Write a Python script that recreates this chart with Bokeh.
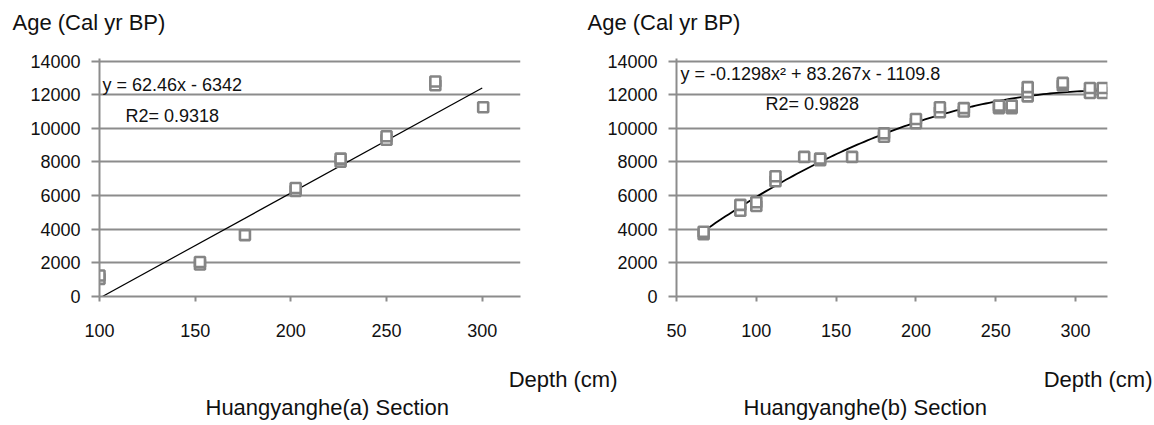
import numpy as np
from bokeh.plotting import figure
from bokeh.models import Range1d, FixedTicker, Label, Title
from bokeh.layouts import row
from bokeh.embed import file_html
from bokeh.resources import INLINE

# ---------------- data ----------------
y_ticks = [0, 2000, 4000, 6000, 8000, 10000, 12000, 14000]
a_x_ticks = [100, 150, 200, 250, 300]
b_x_ticks = [50, 100, 150, 200, 250, 300]

# Huangyanghe(a) section
a_depth = [100, 100, 152.5, 152.5, 176, 202.5, 202.5, 226, 226, 250, 250, 275.5, 275.5, 300.5]
a_age = [1050, 1250, 1900, 2050, 3650, 6280, 6450, 8020, 8200, 9320, 9530, 12560, 12780, 11250]
a_fit = [62.46, -6342]          # slope, intercept (from chart equation)
a_fit_x = [100, 300]
a_eq = "y = 62.46x - 6342"
a_r2 = "R2= 0.9318"

# Huangyanghe(b) section
b_depth = [67, 67, 90, 90, 100, 100, 112, 112, 130, 140, 140, 160, 180, 180,
           200, 200, 215, 215, 230, 230, 252, 252, 260, 260, 270, 270, 270,
           292, 292, 309, 309, 317, 317]
b_age = [3700, 3850, 5100, 5450, 5380, 5600, 6850, 7150, 8300, 8100, 8200, 8300, 9500, 9700,
         10300, 10550, 10950, 11250, 11000, 11200, 11200, 11350, 11200, 11350, 11900, 12150, 12450,
         12550, 12700, 12100, 12400, 12100, 12400]
b_fit = [-0.1298, 83.267, -1109.8]   # a, b, c (from chart equation)
b_fit_x_range = [68, 320]
b_eq = "y = -0.1298x\u00b2 + 83.267x - 1109.8"
b_r2 = "R2= 0.9828"

y_label = "Age (Cal yr BP)"
x_label = "Depth (cm)"
a_title = "Huangyanghe(a) Section"
b_title = "Huangyanghe(b) Section"

FONT = "Liberation Sans"
GRID = "#8c8c8c"
MARK = "#858585"
TXT = "#111111"


def style(p, xticks):
    p.outline_line_color = None
    p.xgrid.visible = False
    p.ygrid.ticker = FixedTicker(ticks=y_ticks)
    p.ygrid.grid_line_color = GRID
    p.ygrid.grid_line_width = 2
    for ax, ticks in ((p.xaxis[0], xticks), (p.yaxis[0], y_ticks)):
        ax.ticker = FixedTicker(ticks=ticks)
        ax.axis_line_color = GRID
        ax.axis_line_width = 2
        ax.major_tick_line_color = GRID
        ax.major_tick_line_width = 2
        ax.minor_tick_line_color = None
        ax.major_tick_in = 0
        ax.major_label_text_font = FONT
        ax.major_label_text_font_size = "18px"
        ax.major_label_text_color = TXT
    p.yaxis[0].major_tick_out = 8
    p.yaxis[0].major_label_standoff = 11
    p.xaxis[0].major_tick_out = 5
    p.xaxis[0].major_label_standoff = 22
    # invisible spacer so the texts below sit lower
    p.xaxis[0].axis_label = " "
    p.xaxis[0].axis_label_text_font_size = "2px"
    p.xaxis[0].axis_label_standoff = 21


def lab(p, x, y, text, size):
    p.add_layout(Label(x=x, y=y, x_units="screen", y_units="screen", text=text,
                       text_font=FONT, text_font_size=size, text_color=TXT,
                       text_baseline="middle", text_align="left"))


def ttl(p, side, text, align, offset, standoff, size="22px", va="middle"):
    p.add_layout(Title(text=text, align=align, offset=offset, standoff=standoff,
                       vertical_align=va, text_font=FONT, text_font_size=size,
                       text_font_style="normal", text_color=TXT), side)


def texts(p, age_off, depth_off, sec_off):
    ttl(p, "above", " ", "left", 0, 20, size="1px")       # spacer
    ttl(p, "above", y_label, "left", age_off, 0)
    ttl(p, "below", x_label, "right", depth_off, 0)
    ttl(p, "below", p.name, "left", sec_off, 2)


# ---------------- left chart ----------------
pa = figure(width=620, height=425, output_backend="svg", toolbar_location=None,
            x_range=Range1d(100, 320), y_range=Range1d(0, 14150),
            min_border_left=99, min_border_right=100, min_border_top=58, min_border_bottom=129,
            title=None, name=a_title)
style(pa, a_x_ticks)
a_fx = np.array(a_fit_x, dtype=float)
pa.line(a_fx, a_fit[0] * a_fx + a_fit[1], line_color="black", line_width=1.2)
pa.scatter(a_depth, a_age, marker="square", size=10, fill_color="white",
           line_color=MARK, line_width=2.6)
lab(pa, 3, 212, a_eq, "18px")
lab(pa, 26, 181, a_r2, "18px")
texts(pa, -87, -97, 106)

# ---------------- right chart ----------------
pb = figure(width=577, height=425, output_backend="svg", toolbar_location=None,
            x_range=Range1d(50, 320), y_range=Range1d(0, 14150),
            min_border_left=99, min_border_right=47, min_border_top=54, min_border_bottom=129,
            title=None, margin=(0, 0, 0, -43), name=b_title)
pb.border_fill_color = None
style(pb, b_x_ticks)
b_fx = np.linspace(b_fit_x_range[0], b_fit_x_range[1], 120)
pb.line(b_fx, b_fit[0] * b_fx ** 2 + b_fit[1] * b_fx + b_fit[2], line_color="black", line_width=1.8)
pb.scatter(b_depth, b_age, marker="square", size=10, fill_color="white",
           line_color=MARK, line_width=2.6)
lab(pb, 4, 223, b_eq, "18px")
lab(pb, 89, 193, b_r2, "18px")
texts(pb, -89, -45, 67)

layout = row(pa, pb)
open("out.html", "w").write(file_html(layout, INLINE))
